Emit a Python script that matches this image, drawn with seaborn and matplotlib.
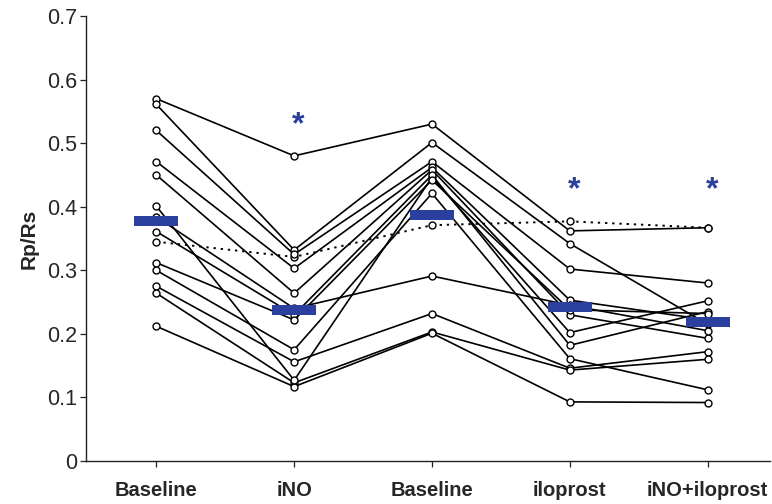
import matplotlib
matplotlib.use("Agg")
import matplotlib.pyplot as plt
import seaborn as sns
import pandas as pd
import numpy as np

# ---- data ----
conditions = ["Baseline", "iNO", "Baseline", "iloprost", "iNO+iloprost"]

p01 = [0.570, 0.480, 0.530, 0.362, 0.367]
p02 = [0.561, 0.332, 0.501, 0.342, 0.215]
p03 = [0.520, 0.325, 0.471, 0.302, 0.280]
p04 = [0.471, 0.303, 0.462, 0.253, 0.222]
p05 = [0.450, 0.264, 0.458, 0.230, 0.193]
p06 = [0.401, 0.127, 0.446, 0.202, 0.252]
p07 = [0.384, 0.240, 0.291, 0.245, 0.205]
p08 = [0.361, 0.230, 0.450, 0.182, 0.235]
p09 = [0.312, 0.222, 0.442, 0.238, 0.232]
p10 = [0.300, 0.175, 0.421, 0.161, 0.112]
p11 = [0.275, 0.156, 0.232, 0.146, 0.172]
p12 = [0.264, 0.123, 0.203, 0.143, 0.160]
p13 = [0.212, 0.117, 0.201, 0.093, 0.092]
patients = [p01, p02, p03, p04, p05, p06, p07, p08, p09, p10, p11, p12, p13]

dotted_patient = [0.345, 0.321, 0.371, 0.377, 0.367]

group_means = [0.378, 0.237, 0.387, 0.243, 0.218]

star_conditions = [1, 3, 4]
star_heights = [0.528, 0.426, 0.426]

# ---- build table ----
rows = []
for i, vals in enumerate(patients):
    for j, v in enumerate(vals):
        rows.append({"patient": f"P{i+1}", "pos": j, "value": v})
df = pd.DataFrame(rows)
df_dot = pd.DataFrame({"pos": range(len(conditions)), "value": dotted_patient})

sns.set_style("ticks")
plt.rcParams["font.family"] = ["Liberation Sans", "DejaVu Sans"]

fig = plt.figure(figsize=(7.72, 5.04), dpi=100)
ax = fig.add_axes([0.1114, 0.0853, 0.8856, 0.8829])

blue = "#2B3F9E"

sns.lineplot(data=df_dot, x="pos", y="value", ax=ax, color="black",
             linewidth=1.4, linestyle=(0, (1.2, 2.5)), marker="o",
             markersize=5, markerfacecolor="white", markeredgecolor="black",
             markeredgewidth=1.0, zorder=2)

sns.lineplot(data=df, x="pos", y="value", units="patient", estimator=None,
             ax=ax, color="black", linewidth=1.2, marker="o", markersize=5,
             markerfacecolor="white", markeredgecolor="black",
             markeredgewidth=1.0, zorder=3)

# group mean bars
xs = np.arange(len(conditions))
ax.hlines(group_means, xs - 0.16, xs + 0.16, colors=blue, linewidth=7.2,
          zorder=5)

# significance stars
for c, h in zip(star_conditions, star_heights):
    ax.text(c + 0.03, h, "*", color=blue, fontsize=23, fontweight="bold",
            ha="center", va="center", zorder=6)

ax.set_xlim(-0.51, 4.45)
ax.set_ylim(0, 0.7)
ax.set_xticks(xs)
ax.set_xticklabels(conditions, fontsize=14.5, fontweight="bold")
ax.set_yticks([0, 0.1, 0.2, 0.3, 0.4, 0.5, 0.6, 0.7])
ax.set_yticklabels(["0", "0.1", "0.2", "0.3", "0.4", "0.5", "0.6", "0.7"],
                   fontsize=15.5)
ax.set_xlabel("")
ax.set_ylabel("Rp/Rs", fontsize=15, fontweight="bold", labelpad=6)

for s in ["top", "right"]:
    ax.spines[s].set_visible(False)
for s in ["left", "bottom"]:
    ax.spines[s].set_color("#222222")
    ax.spines[s].set_linewidth(1.0)
ax.tick_params(axis="both", direction="out", length=4.5, width=0.9,
               color="#222222")
ax.tick_params(axis="x", pad=10)
ax.tick_params(axis="y", pad=2)

fig.savefig("out.png", dpi=100)
